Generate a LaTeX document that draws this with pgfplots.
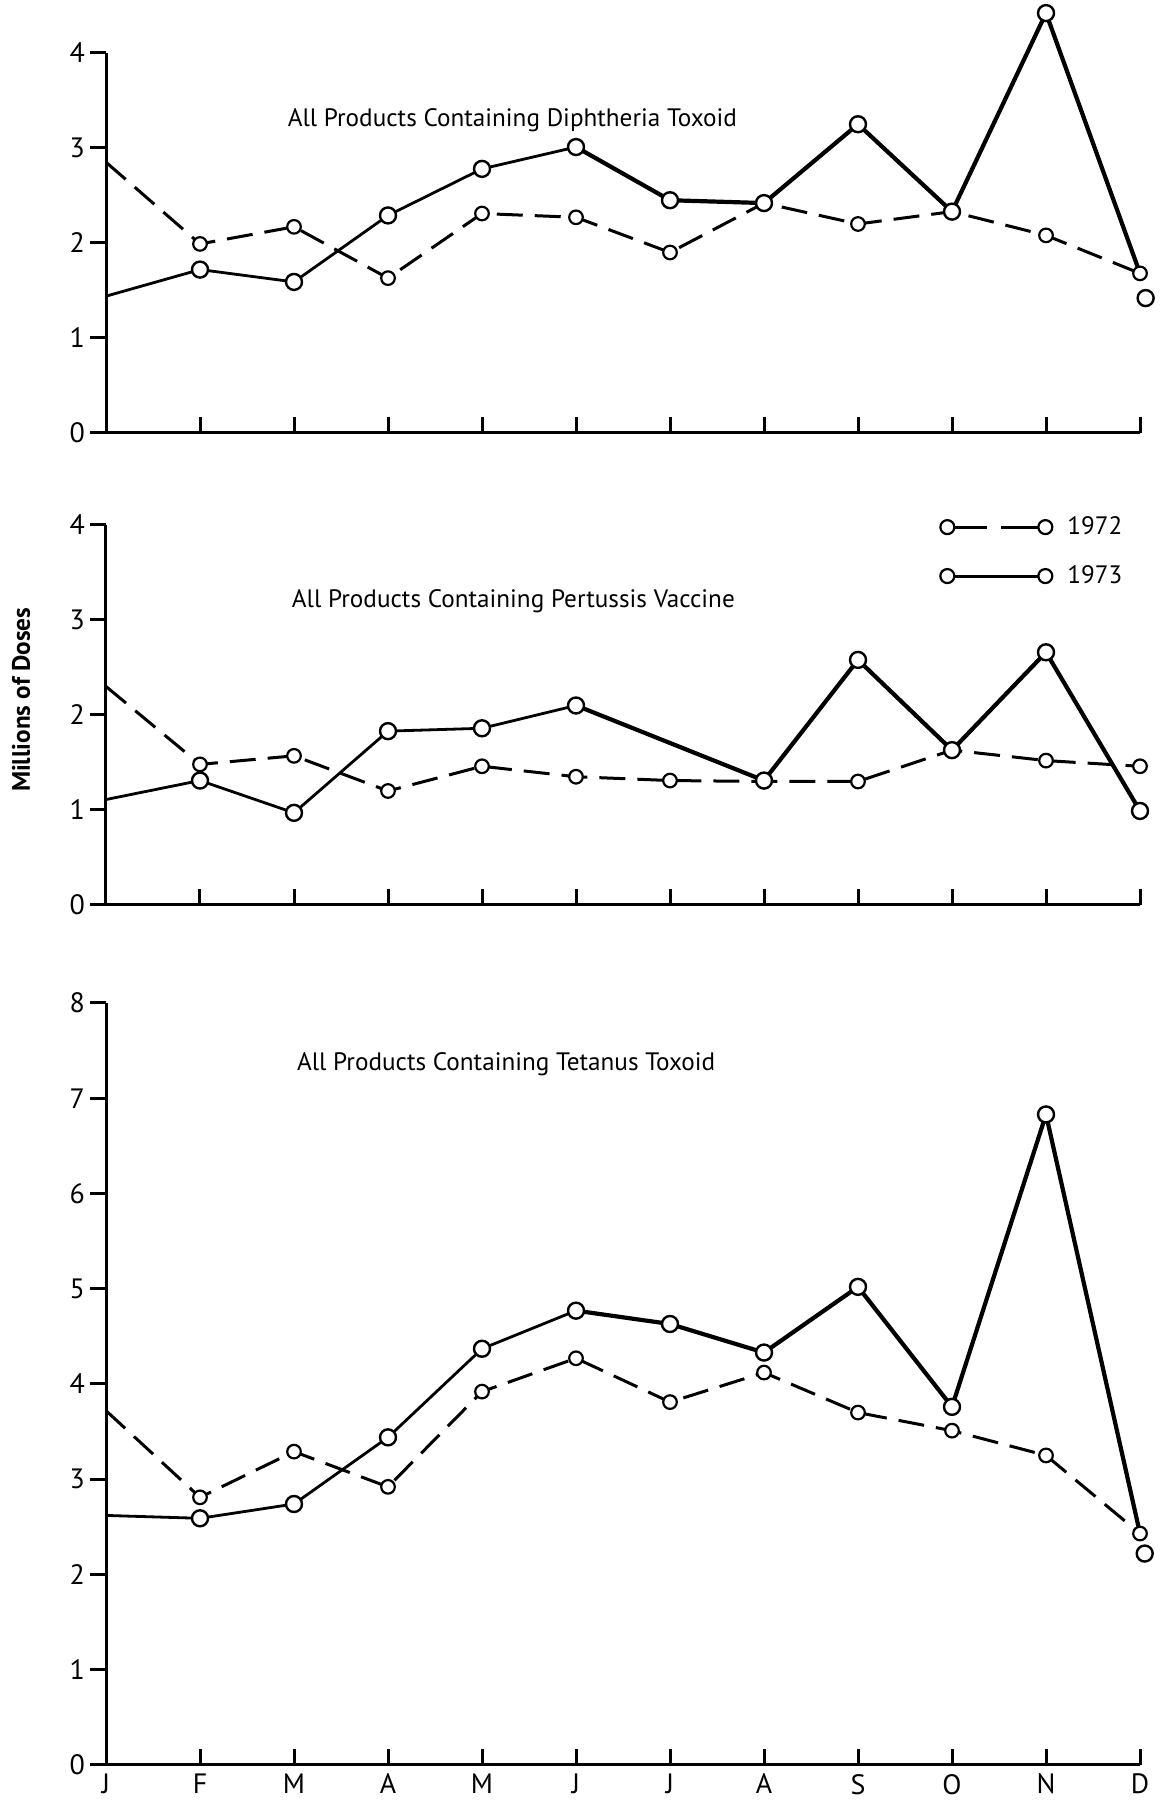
\documentclass[border=0pt]{standalone}
\usepackage{fontspec}
\setmainfont{PT Sans}
\usepackage{pgfplots}
\pgfplotsset{compat=1.18}

\newcommand\lblfont{\fontsize{12.6}{14}\selectfont}
\newcommand\tickfont{\fontsize{14}{16}\selectfont}

\pgfplotsset{
  panel/.style={
    scale only axis, width=517pt,
    xmin=0, xmax=11, ymin=0,
    axis x line=bottom, axis y line=left,
    axis line style={-, line width=1.5pt, black},
    tick align=inside, major tick length=8pt,
    xtick={0,...,11}, xticklabels={},
    xtick style={line width=1.5pt, black},
    ytick style={line width=1.5pt, black, xshift=-8pt},
    yticklabel style={xshift=-7pt},
    ticklabel style={font=\tickfont},
    /pgf/number format/assume math mode=true,
    clip=false,
  },
  y72/.style={black, line width=1.5pt, dash pattern=on 13pt off 6pt, mark=none, forget plot},
  thin73/.style={black, line width=1.4pt, mark=none, forget plot},
  thick73/.style={black, line width=2.1pt, mark=none, forget plot},
  dot72/.style={only marks, mark=*, mark size=3.4pt,
    mark options={solid, fill=white, draw=black, line width=1.1pt}, forget plot},
  dot73/.style={only marks, mark=*, mark size=4pt,
    mark options={solid, fill=white, draw=black, line width=1.2pt}, forget plot},
}

\begin{document}
\begin{tikzpicture}
\useasboundingbox (-53pt,-21.5pt) rectangle (530.5pt,882.5pt);

% --- Diphtheria
\begin{axis}[panel, at={(0pt,666pt)}, anchor=south west,
    height=190pt, ymax=4, ytick={0,1,2,3,4},
    title={All Products Containing Diphtheria Toxoid},
    every axis title/.style={at={(axis description cs:0.393,0.824)}, anchor=center, font=\lblfont}]
\addplot[y72] coordinates {(0,2.85)(1,1.99)(2,2.17)(3,1.63)(4,2.31)(5,2.27)(6,1.90)(7,2.42)(8,2.20)(9,2.33)(10,2.08)(11,1.68)};
\addplot[thin73] coordinates {(0,1.44)(1,1.72)(2,1.59)(3,2.29)(4,2.78)(5,3.01)};
\addplot[thick73] coordinates {(5,3.01)(6,2.45)(7,2.42)(8,3.25)(9,2.33)(10,4.42)(11,1.68)};
\addplot[dot72] coordinates {(1,1.99)(2,2.17)(3,1.63)(4,2.31)(5,2.27)(6,1.90)(7,2.42)(8,2.20)(9,2.33)(10,2.08)(11,1.68)};
\addplot[dot73] coordinates {(1,1.72)(2,1.59)(3,2.29)(4,2.78)(5,3.01)(6,2.45)(7,2.42)(8,3.25)(9,2.33)(10,4.42)(11.06,1.42)};
\end{axis}

% --- Pertussis
\begin{axis}[panel, at={(0pt,430pt)}, anchor=south west,
    height=190pt, ymax=4, ytick={0,1,2,3,4},
    title={All Products Containing Pertussis Vaccine},
    every axis title/.style={at={(axis description cs:0.394,0.80)}, anchor=center, font=\lblfont},
    ylabel={Millions of Doses},
    every axis y label/.style={at={(axis description cs:-0.082,0.54)}, rotate=90, anchor=center, font=\bfseries\lblfont},
    legend style={draw=none, fill=none, inner sep=0pt, at={(axis cs:8.86,3.72)}, anchor=west,
      row sep=10pt, column sep=5pt, font=\lblfont, cells={anchor=west}},
    legend cell align=left]
\addplot[y72] coordinates {(0,2.30)(1,1.48)(2,1.57)(3,1.20)(4,1.46)(5,1.35)(6,1.31)(7,1.30)(8,1.30)(9,1.63)(10,1.52)(11,1.46)};
\addplot[thin73] coordinates {(0,1.11)(1,1.31)(2,0.97)(3,1.83)(4,1.86)(5,2.10)};
\addplot[thick73] coordinates {(5,2.10)(7,1.31)(8,2.58)(9,1.63)(10,2.66)(11,0.99)};
\addplot[dot72] coordinates {(1,1.48)(2,1.57)(3,1.20)(4,1.46)(5,1.35)(6,1.31)(7,1.30)(8,1.30)(9,1.63)(10,1.52)(11,1.46)};
\addplot[dot73] coordinates {(1,1.31)(2,0.97)(3,1.83)(4,1.86)(5,2.10)(7,1.31)(8,2.58)(9,1.63)(10,2.66)(11,0.99)};
\addlegendimage{legend image code/.code={
  \draw[black, line width=1.5pt, dash pattern=on 20pt off 7pt] (0pt,0pt) -- (49pt,0pt);
  \draw[black, line width=1.1pt, fill=white] (0pt,0pt) circle[radius=3.5pt] (49pt,0pt) circle[radius=3.5pt];}}
\addlegendentry{1972}
\addlegendimage{legend image code/.code={
  \draw[black, line width=1.5pt] (0pt,0pt) -- (49pt,0pt);
  \draw[black, line width=1.1pt, fill=white] (0pt,0pt) circle[radius=3.5pt] (49pt,0pt) circle[radius=3.5pt];}}
\addlegendentry{1973}
\end{axis}

% --- Tetanus
\begin{axis}[panel, at={(0pt,0pt)}, anchor=south west,
    height=381pt, ymax=8, ytick={0,1,2,3,4,5,6,7,8},
    xticklabels={J,F,M,A,M,J,J,A,S,O,N,D},
    xticklabel style={yshift=-1pt},
    title={All Products Containing Tetanus Toxoid},
    every axis title/.style={at={(axis description cs:0.387,0.92)}, anchor=center, font=\lblfont}]
\addplot[y72] coordinates {(0,3.72)(1,2.81)(2,3.29)(3,2.92)(4,3.92)(5,4.27)(6,3.81)(7,4.12)(8,3.70)(9,3.51)(10,3.25)(11,2.43)};
\addplot[thin73] coordinates {(0,2.62)(1,2.59)(2,2.74)(3,3.44)(4,4.37)(5,4.77)};
\addplot[thick73] coordinates {(5,4.77)(6,4.63)(7,4.33)(8,5.02)(9,3.76)(10,6.83)(11,2.43)};
\addplot[dot72] coordinates {(1,2.81)(2,3.29)(3,2.92)(4,3.92)(5,4.27)(6,3.81)(7,4.12)(8,3.70)(9,3.51)(10,3.25)(11,2.43)};
\addplot[dot73] coordinates {(1,2.59)(2,2.74)(3,3.44)(4,4.37)(5,4.77)(6,4.63)(7,4.33)(8,5.02)(9,3.76)(10,6.83)(11.05,2.22)};
\end{axis}
\end{tikzpicture}
\end{document}
